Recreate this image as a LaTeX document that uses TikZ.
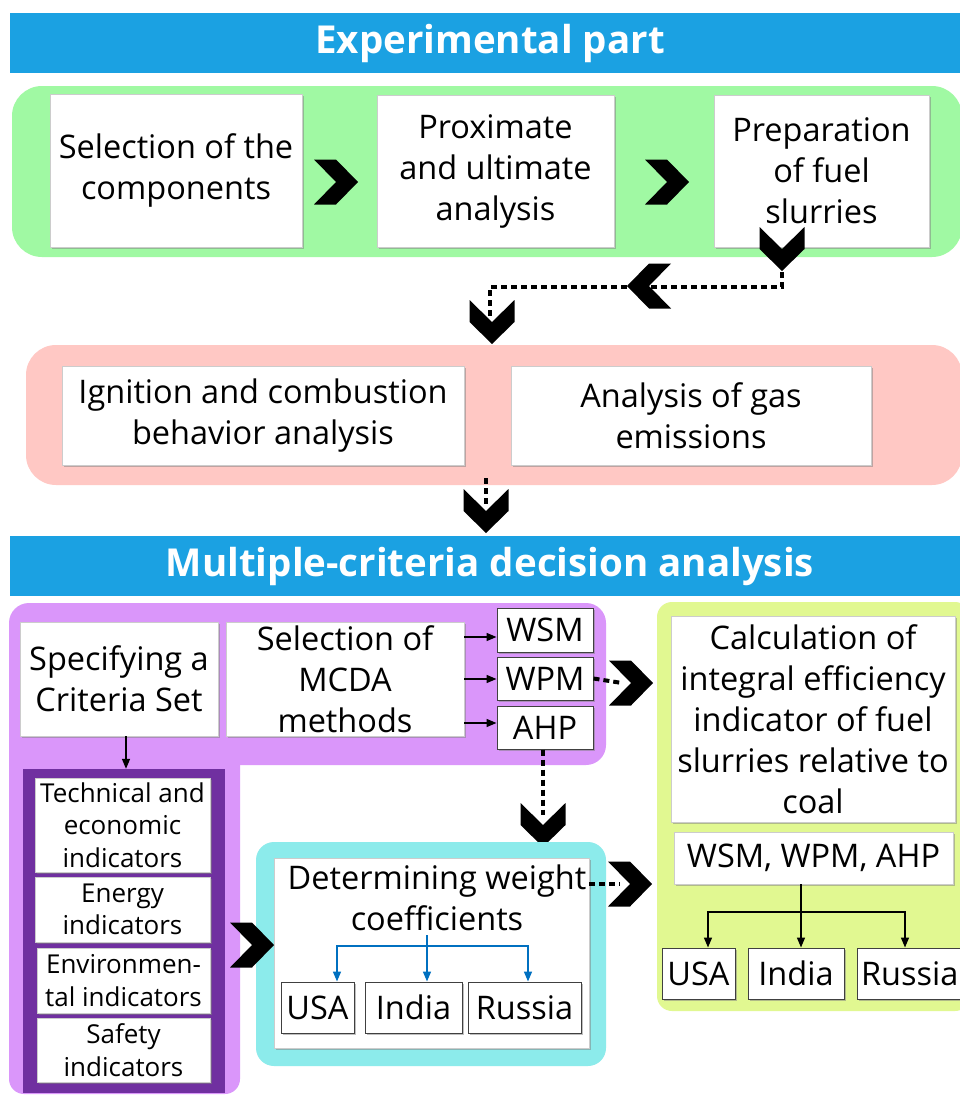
\documentclass[tikz,border=0pt]{standalone}
\usepackage{fontspec}
\setmainfont{Open Sans}
\usetikzlibrary{shadows,arrows.meta,calc}
\definecolor{bannerblue}{RGB}{27,161,226}
\definecolor{lgreen}{RGB}{160,249,163}
\definecolor{lpink}{RGB}{255,200,196}
\definecolor{lpurple}{RGB}{218,150,250}
\definecolor{dpurple}{RGB}{112,48,160}
\definecolor{lcyan}{RGB}{140,235,235}
\definecolor{lyellow}{RGB}{225,248,145}
\definecolor{arrblue}{RGB}{0,112,192}
\tikzset{
  box/.style={fill=white, draw=black!20, line width=0.5pt,
    drop shadow={shadow xshift=2pt,shadow yshift=-2pt,fill=black!50,opacity=0.5},
    align=center, inner sep=0pt, font=\fontsize{32.5}{41}\selectfont},
  sbox/.style={box, draw=black!75, line width=1pt},
  indbox/.style={box, font=\fontsize{26}{32.5}\selectfont},
  banner/.style={fill=bannerblue, text=white, font=\bfseries\fontsize{38.5}{46}\selectfont,
    minimum width=960, minimum height=60, inner sep=0pt},
  arr/.style={-{Triangle[length=10pt,width=8pt]}, line width=1.5pt, black},
  barr/.style={-{Triangle[length=10pt,width=8pt]}, line width=1.6pt, arrblue},
  dots/.style={line width=4pt, dash pattern=on 6pt off 4pt, black},
  chev/.pic={\fill[black] (-22,-22.5) -- (0,-22.5) -- (22,0) -- (0,22.5) -- (-22,22.5) -- (0,0) -- cycle;}
}
\begin{document}
\begin{tikzpicture}[x=1pt,y=-1pt]
\useasboundingbox (0,0) rectangle (960,1095);
\fill[white] (0,0) rectangle (960,1095);

% ---------- Experimental part ----------
\node[banner] (b1) at (490,43) {Experimental part};
\fill[lgreen, rounded corners=30] (12,86) rectangle (962,257);
\node[box, minimum width=252, minimum height=153] (sel) at (176,170.5) {Selection of the\\components};
\node[box, minimum width=237, minimum height=152] (prox) at (495.5,171) {Proximate\\and ultimate\\analysis};
\node[box, minimum width=215, minimum height=152] (prep) at (821.5,171) {Preparation\\of fuel\\slurries};
\pic at (336,182) {chev};
\pic at (667,182) {chev};

% dotted path from preparation to the pink group
\coordinate (p1) at (782,262);
\coordinate (q1) at (782,287);
\coordinate (q2) at (490,287);
\coordinate (p2) at (490,318);
\draw[dots] (p1) -- (q1) -- (q2) -- (p2);
\pic[rotate=-90] at (782,249) {chev};
\pic[rotate=180] at (649,286) {chev};
\pic[rotate=-90] at (492,322) {chev};

\fill[lpink, rounded corners=30] (26,345) rectangle (962,485);
\node[box, minimum width=402, minimum height=99] (ign) at (263,415.5) {Ignition and combustion\\behavior analysis};
\node[box, minimum width=360, minimum height=99] (gas) at (691,415.5) {Analysis of gas\\emissions};

\coordinate (p3) at (486,478);
\coordinate (p4) at (486,506);
\draw[dots] (p3) -- (p4);
\pic[rotate=-90] at (486,511) {chev};

% ---------- MCDA ----------
\node[banner] (b2) at (490,566) {Multiple-criteria decision analysis};

\fill[lpurple, rounded corners=20] (9,603) rectangle (606,765);
\fill[lpurple, rounded corners=15] (9,640) rectangle (240,1094);
\node[box, minimum width=198, minimum height=114] (spec) at (119,679) {Specifying a\\Criteria Set};
\node[box, minimum width=238, minimum height=114] (mcda) at (345,679) {Selection of\\MCDA\\methods};
\node[sbox, minimum width=96, minimum height=44] (wsm) at (545,630) {WSM};
\node[sbox, minimum width=96, minimum height=43] (wpm) at (545,678.5) {WPM};
\node[sbox, minimum width=96, minimum height=43] (ahp) at (545,727.5) {AHP};
\draw[arr] (mcda.east |- 0,637) -- (wsm.west |- 0,637);
\draw[arr] (mcda.east |- 0,679) -- (wpm.west |- 0,679);
\draw[arr] (mcda.east |- 0,723) -- (ahp.west |- 0,723);

\node[fill=dpurple, minimum width=202, minimum height=324, inner sep=0pt] (crit) at (124,931) {};
\draw[arr] (spec.south -| 126,0) -- (crit.north -| 126,0);
\node[indbox, minimum width=175, minimum height=94] (tech) at (122.5,825) {Technical and\\economic\\indicators};
\node[indbox, minimum width=175, minimum height=65] (energy) at (122.5,909.5) {Energy\\indicators};
\node[indbox, minimum width=173, minimum height=65] (env) at (123.5,980.5) {Environmen-\\tal indicators};
\node[indbox, minimum width=173, minimum height=64] (safe) at (123.5,1050) {Safety\\indicators};

% AHP -> weight coefficients
\coordinate (p5) at (543,815);
\draw[dots] (ahp.south -| p5) -- (p5);
\pic[rotate=-90] at (543,825) {chev};

\fill[lcyan, rounded corners=18] (256,842) rectangle (606,1066);
\node[box, minimum width=315, minimum height=190] (detbox) at (431.5,953) {};
\node[align=center, inner sep=0pt, font=\fontsize{32.5}{41}\selectfont] (det) at (437,898) {Determining weight\\coefficients};
\node[sbox, minimum width=73, minimum height=51] (usa1) at (317.5,1007.5) {USA};
\node[sbox, minimum width=97, minimum height=51] (ind1) at (413.5,1007.5) {India};
\node[sbox, minimum width=113, minimum height=51] (rus1) at (524.5,1007.5) {Russia};
\coordinate (bt) at (427,935);
\coordinate (bj) at (427,946);
\draw[line width=1.6pt, arrblue] (bt) -- (bj);
\draw[barr] (bj) -| ([xshift=19.5pt]usa1.north);
\draw[barr] (bj) -- ([xshift=13.5pt]ind1.north);
\draw[barr] (bj) -| ([xshift=3.5pt]rus1.north);
\pic at (252,945) {chev};

% ---------- Calculation ----------
\fill[lyellow, rounded corners=15] (657,602) rectangle (970,1011);
\node[box, minimum width=284, minimum height=206] (calc) at (813,719) {Calculation of\\integral efficiency\\indicator of fuel\\slurries relative to\\coal};
\node[box, minimum width=279, minimum height=52] (meth) at (813.5,858) {WSM, WPM, AHP};
\node[sbox, minimum width=73, minimum height=51] (usa2) at (698.5,973.5) {USA};
\node[sbox, minimum width=96, minimum height=51] (ind2) at (796,973.5) {India};
\node[sbox, minimum width=111, minimum height=51, text width=103, align=left] (rus2) at (912.5,973.5) {Russia};
\coordinate (tj) at (801,912);
\draw[line width=1.5pt] (meth.south -| tj) -- (tj);
\draw[arr] (tj) -| ([xshift=9.5pt]usa2.north);
\draw[arr] (tj) -- ([xshift=5pt]ind2.north);
\draw[arr] (tj) -| ([xshift=-7.5pt]rus2.north);

% dotted links into the calculation block
\coordinate (p6) at (622,683);
\draw[dots] (wpm.east) -- (p6);
\pic at (631,683) {chev};
\coordinate (p7) at (620,884);
\draw[dots] (detbox.east |- p7) -- (p7);
\pic at (630,884) {chev};
\end{tikzpicture}
\end{document}
